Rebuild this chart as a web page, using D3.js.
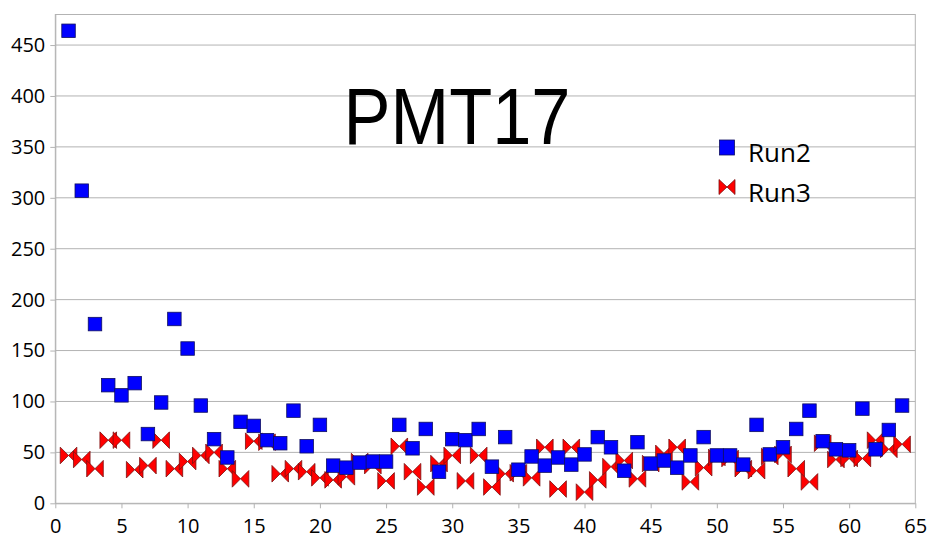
<!DOCTYPE html>
<html>
<head>
<meta charset="utf-8">
<script src="https://cdn.jsdelivr.net/npm/d3@7"></script>
<style>
  html, body { margin: 0; padding: 0; background: #ffffff; }
  svg { display: block; }
</style>
</head>
<body>
<svg id="chart" width="930" height="540"></svg>
<script>
// Channel index (1..64)
const channels = d3.range(1, 65);

// Run2 readings per channel
const run2 = [464, 307, 176, 116, 106, 118, 68, 99, 181, 152,
              96, 63, 45, 80, 76, 62, 59, 91, 56, 77,
              37, 35, 40, 41, 41, 77, 54, 73, 31, 63,
              62, 73, 36, 65, 33, 46, 37, 45, 38, 48,
              65, 55, 32, 60, 39, 42, 35, 47, 65, 47,
              47, 38, 77, 48, 55, 73, 91, 61, 53, 52,
              93, 53, 72, 96];

// Run3 readings per channel
const run3 = [47, 43, 34, 62, 62, 33, 37, 62, 34, 41,
              47, 50, 34, 24, 61, 60, 29, 34, 31, 25,
              23, 26, 41, 37, 22, 56, 31, 16, 39, 47,
              22, 47, 16, 29, 30, 25, 55, 14, 55, 11,
              23, 36, 42, 24, 39, 49, 55, 21, 35, 45,
              44, 34, 32, 46, 48, 34, 21, 59, 43, 44,
              44, 62, 53, 58];

const xTicks = d3.range(0, 66, 5);
const yTicks = d3.range(0, 451, 50);
const seriesNames = ["Run2", "Run3"];
const chartTitle = "PMT17";

const svg = d3.select("#chart");
const plot = { left: 55.3, right: 915.3, top: 14.5, bottom: 503.3 };

const x = d3.scaleLinear().domain([0, 65]).range([plot.left, plot.right]);
const y = d3.scaleLinear().domain([0, 480]).range([plot.bottom, plot.top]);

const gridColor = "#b3b3b3";
const font = "'Open Sans', 'Noto Sans', sans-serif";

// horizontal grid
svg.append("g")
  .selectAll("line")
  .data(yTicks.filter(d => d > 0))
  .join("line")
  .attr("x1", plot.left).attr("x2", plot.right)
  .attr("y1", d => y(d)).attr("y2", d => y(d))
  .attr("stroke", gridColor).attr("stroke-width", 1);

// frame
svg.append("rect")
  .attr("x", plot.left).attr("y", plot.top)
  .attr("width", plot.right - plot.left).attr("height", plot.bottom - plot.top)
  .attr("fill", "none").attr("stroke", gridColor).attr("stroke-width", 1);

// axes
const xAxis = d3.axisBottom(x).tickValues(xTicks).tickSize(5).tickPadding(11).tickSizeOuter(0);
const yAxis = d3.axisLeft(y).tickValues(yTicks).tickSize(5).tickPadding(5).tickSizeOuter(0);

const gx = svg.append("g").attr("transform", `translate(0,${plot.bottom})`).call(xAxis);
const gy = svg.append("g").attr("transform", `translate(${plot.left},0)`).call(yAxis);

[gx, gy].forEach(g => {
  g.select(".domain").attr("stroke", gridColor);
  g.selectAll(".tick line").attr("stroke", gridColor);
  g.selectAll(".tick text")
    .attr("fill", "#000")
    .style("font-family", font)
    .style("font-size", "20px");
});

// Run3 bowties
const bowtie = (w, h) => `M${-w},${-h}L0,0L${-w},${h}ZM${w},${-h}L0,0L${w},${h}Z`;

svg.append("g")
  .selectAll("path")
  .data(channels.map((c, i) => [c, run3[i]]))
  .join("path")
  .attr("transform", d => `translate(${x(d[0])},${y(d[1])})`)
  .attr("d", bowtie(8.3, 8.3))
  .attr("fill", "#ff0000")
  .attr("stroke", "#7a1010")
  .attr("stroke-width", 0.8)
  .attr("stroke-linejoin", "miter");

// Run2 squares
const sq = 13.5;
svg.append("g")
  .selectAll("rect")
  .data(channels.map((c, i) => [c, run2[i]]))
  .join("rect")
  .attr("x", d => x(d[0]) - sq / 2)
  .attr("y", d => y(d[1]) - sq / 2)
  .attr("width", sq).attr("height", sq)
  .attr("fill", "#0000ff")
  .attr("stroke", "#101060")
  .attr("stroke-width", 0.8);

// title, slightly condensed horizontally
svg.append("text")
  .attr("transform", "translate(457,144) scale(0.88,1)")
  .attr("text-anchor", "middle")
  .style("font-family", "'Liberation Sans', Arial, sans-serif")
  .style("font-size", "80px")
  .attr("fill", "#000")
  .text(chartTitle);

// legend
const lg = svg.append("g");
lg.append("rect")
  .attr("x", 727 - 7.5).attr("y", 147.5 - 7.5)
  .attr("width", 15).attr("height", 15)
  .attr("fill", "#0000ff").attr("stroke", "#101060").attr("stroke-width", 0.8);
lg.append("path")
  .attr("transform", "translate(727,187)")
  .attr("d", bowtie(8, 7.5))
  .attr("fill", "#ff0000").attr("stroke", "#7a1010").attr("stroke-width", 0.8);
lg.selectAll("text")
  .data(seriesNames)
  .join("text")
  .attr("x", 748)
  .attr("y", (d, i) => 161.5 + i * 40)
  .style("font-family", font)
  .style("font-size", "26px")
  .attr("fill", "#000")
  .text(d => d);
</script>
</body>
</html>
